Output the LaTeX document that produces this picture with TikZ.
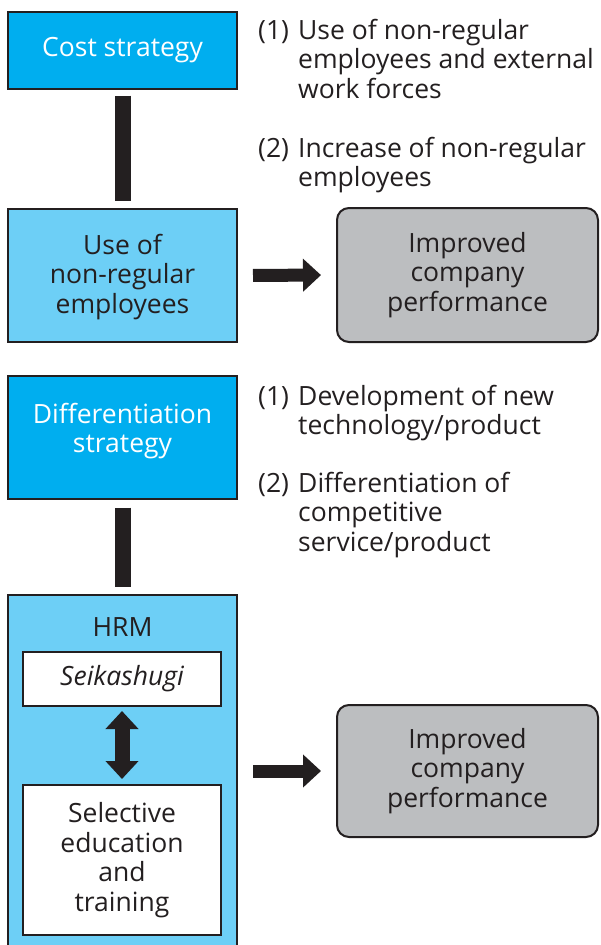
\documentclass[tikz,border=0pt]{standalone}
\usepackage{fontspec}
\setmainfont{Open Sans}
\usetikzlibrary{arrows.meta}
\definecolor{cyanA}{HTML}{00AEEF}
\definecolor{cyanB}{HTML}{6DCFF6}
\definecolor{grayA}{HTML}{BCBEC0}
\definecolor{ink}{HTML}{231F20}
\begin{document}
\begin{tikzpicture}[x=1pt,y=-1pt,
  every node/.style={font=\fontsize{26.5}{29.5}\selectfont, text=ink, inner sep=0pt},
  box/.style={draw=ink, line width=2pt, minimum width=229pt, align=center},
  inbox/.style={draw=ink, line width=2pt, fill=white, minimum width=198pt, align=center},
  impbox/.style={draw=ink, line width=2pt, fill=grayA, rounded corners=12pt, minimum width=261pt, align=center},
  bar/.style={draw=ink, line width=16pt},
  fat/.style={draw=ink, line width=13pt, -{Triangle[length=18pt,width=32pt]}, shorten <=15pt, shorten >=15pt},
  dbl/.style={draw=ink, line width=15pt, {Triangle[length=18pt,width=32pt]}-{Triangle[length=18pt,width=32pt]}, shorten <=4pt, shorten >=5pt},
  note/.style={anchor=base west}
]
\useasboundingbox (0,0) rectangle (600,945);
\clip (0,0) rectangle (600,945);

% top part
\node[box, fill=cyanA, minimum height=77pt, text=white] (cost) at (122.5,50) {Cost strategy};
\node[box, fill=cyanB, minimum height=133pt] (use) at (122.5,275.5) {};
\node[align=center] (usetext) at (122.5,277) {Use of\\non-regular\\employees};
\node[impbox, minimum height=134pt] (imp1) at (467.5,275) {Improved\\company\\performance};
\draw[bar, shorten <=6pt, shorten >=7pt] (cost.south) -- (use.north);
\draw[fat] (use.east) -- (imp1.west);

\node[note] (n1) at (258,39) {\begin{tabular}[t]{@{}p{40pt}@{}l@{}}(1)&Use of non-regular\\&employees and external\\&work forces\end{tabular}};
\node[note] (n2) at (258,157) {\begin{tabular}[t]{@{}p{40pt}@{}l@{}}(2)&Increase of non-regular\\&employees\end{tabular}};

% bottom part
\node[box, fill=cyanA, minimum height=123pt] (diff) at (122.5,437) {};
\node[align=center, text=white] (difftext) at (122.5,431) {Differentiation\\strategy};
\node[box, fill=cyanB, minimum height=366pt, anchor=north] (hrm) at (122.5,594) {};
\node (hrmlabel) at (122.5,627) {HRM};
\node[inbox, minimum height=54pt] (seik) at (122,679) {\itshape Seikashugi};
\node[inbox, minimum height=150pt] (sel) at (122,860) {Selective\\education\\and\\training};
\node[impbox, minimum height=132pt] (imp2) at (467.5,771) {Improved\\company\\performance};
\draw[bar, shorten <=8pt, shorten >=7pt] (diff.south) -- (hrm.north);
\draw[dbl] (seik.south) -- (sel.north);
\draw[fat] (hrm.east |- imp2.west) -- (imp2.west);

\node[note] (n3) at (258,405) {\begin{tabular}[t]{@{}p{40pt}@{}l@{}}(1)&Development of new\\&technology/product\end{tabular}};
\node[note] (n4) at (258,492) {\begin{tabular}[t]{@{}p{40pt}@{}l@{}}(2)&Differentiation of\\&competitive\\&service/product\end{tabular}};
\end{tikzpicture}
\end{document}
